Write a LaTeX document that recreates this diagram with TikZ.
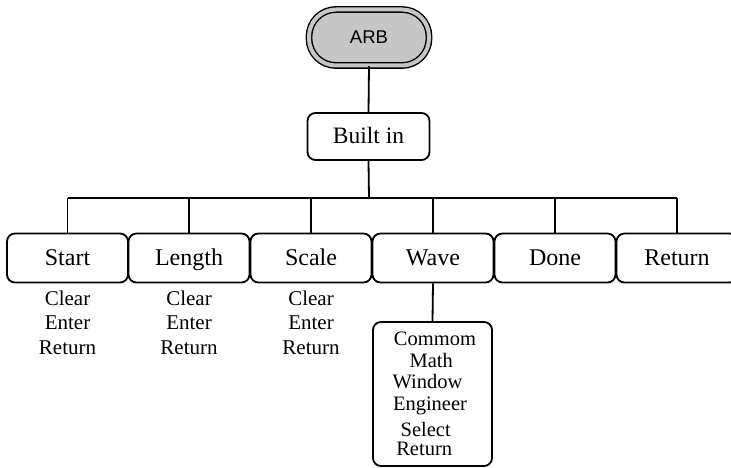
\documentclass[tikz,border=0pt]{standalone}
\usepackage{fontspec}
\setmainfont{Liberation Serif}
\newfontfamily\arbfont{Liberation Sans}
\usetikzlibrary{calc}
\begin{document}
\begin{tikzpicture}[x=1pt,y=-1pt,
  box/.style={draw, line width=1.8pt, rounded corners=8pt, minimum width=121pt, minimum height=49pt, inner sep=0pt, text height=17pt, text depth=2pt, font=\fontsize{24}{26}\selectfont},
  conn/.style={line width=1.8pt},
  sub/.style={align=center, font=\fontsize{21}{24.5}\selectfont, inner sep=0pt},
  arbstyle/.style={draw=black, line width=1.4pt, double=gray!45, double distance=4pt, fill=gray!45, rounded corners=27pt, minimum width=120pt, minimum height=56pt, font=\arbfont\fontsize{18.5}{20}\selectfont}]
\useasboundingbox (0,0) rectangle (731,468);

\node[arbstyle] (arb) at (369,37.5) {ARB};
\node[box, minimum width=122pt, minimum height=47pt, font=\fontsize{23.5}{25}\selectfont] (built) at (368.5,136.5) {Built in};
\coordinate (bus) at (369,198);

\node[box] (start)  at (67.5,258) {Start};
\node[box] (length) at (189,258) {Length};
\node[box] (scale)  at (311,258) {Scale};
\node[box] (wave)   at (433,258) {Wave};
\node[box] (done)   at (555,258) {Done};
\node[box] (return) at (677,258) {Return};

\node[sub] (s1) at (67.5,322.5) {Clear\\Enter\\Return};
\node[sub] (s2) at (189,322.5) {Clear\\Enter\\Return};
\node[sub] (s3) at (311,322.5) {Clear\\Enter\\Return};

\node[draw, line width=1.8pt, rounded corners=8pt, minimum width=119pt, minimum height=144pt, align=center, inner sep=0pt, font=\fontsize{20.5}{22}\selectfont] (wsub) at (432.5,394)
  {\hspace*{5pt}Commom\\[0.4pt]\hspace*{-2.4pt}Math\\[-1.7pt]\hspace*{-10pt}Window\\[0.3pt]\hspace*{-5pt}Engineer\\[3.5pt]\hspace*{-13.6pt}Select\\[-2.2pt]\hspace*{-16.6pt}Return};

\draw[conn] (arb.south) -- (built.north);
\draw[conn] (built.south) -- (bus);
\draw[conn] (start.north|-bus) -- (return.north|-bus);
\foreach \n in {start,length,scale,wave,done,return}
  \draw[conn] (\n.north|-bus) -- (\n.north);
\draw[conn] (wave.south) -- (wsub.north);
\end{tikzpicture}
\end{document}
